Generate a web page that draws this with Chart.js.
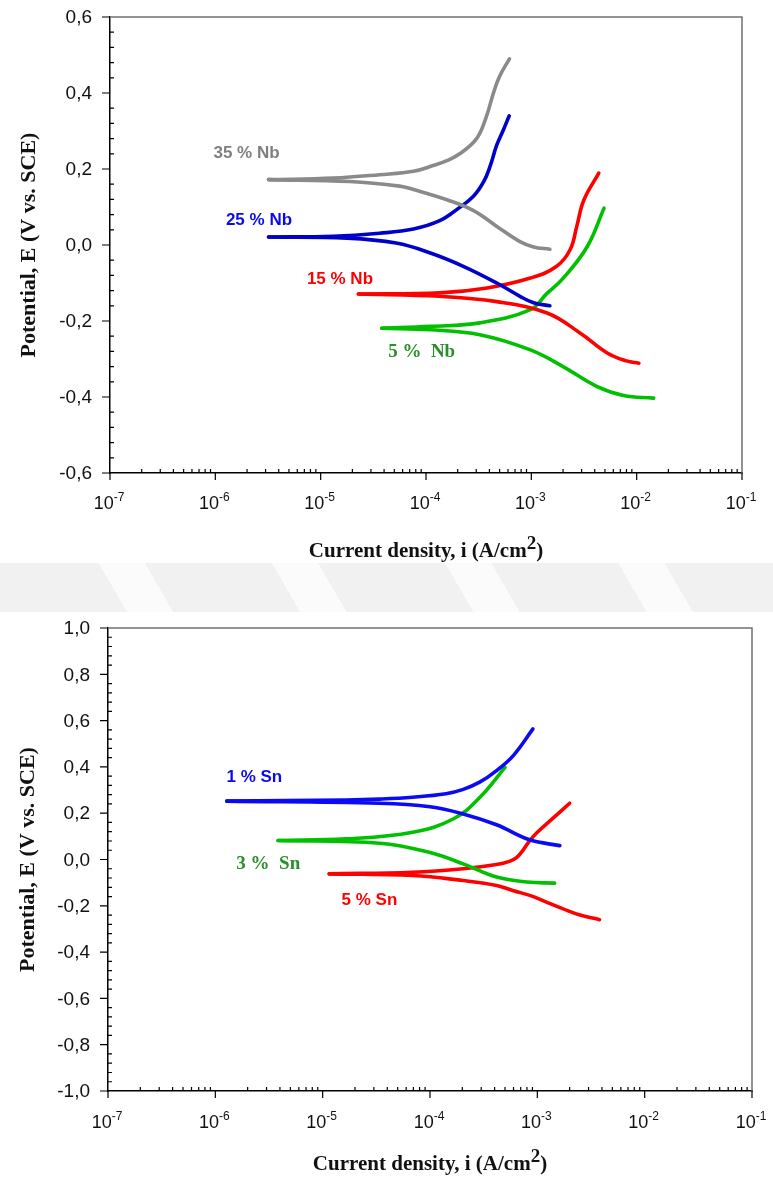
<!DOCTYPE html>
<html>
<head>
<meta charset="utf-8">
<script src="https://cdn.jsdelivr.net/npm/chart.js@4.4.0/dist/chart.umd.min.js"></script>
<style>
  body { margin:0; background:#fff; width:773px; height:1184px; position:relative; overflow:hidden; }
  canvas { position:absolute; left:0; }
  #band { position:absolute; left:0; top:563px; width:773px; height:49px;
    background:repeating-linear-gradient(60deg, #f1f1f1 0 110px, #fbfbfb 110px 150px); }
</style>
</head>
<body>
<div id="band"></div>
<canvas id="chart-nb" width="773" height="600" style="top:0"></canvas>
<canvas id="chart-sn" width="773" height="584" style="top:600px"></canvas>
<script>
// ---- data: [current density (A/cm2), potential (V vs SCE)] ----
// top panel, Nb alloys
const nb35Anodic   = [[3.2e-6,0.172],[1.32e-5,0.176],[3.63e-5,0.185],[7.6e-5,0.194],[1.17e-4,0.209],[1.58e-4,0.222],[2.09e-4,0.240],[3.02e-4,0.280],[3.7e-4,0.334],[4.37e-4,0.400],[5.0e-4,0.444],[6.2e-4,0.490]];
const nb35Cathodic = [[3.2e-6,0.172],[1.9e-5,0.167],[5.6e-5,0.155],[7.6e-5,0.146],[1.58e-4,0.119],[2.8e-4,0.091],[4.7e-4,0.049],[7.8e-4,0.009],[1.05e-3,-0.005],[1.5e-3,-0.011]];
const nb25Anodic   = [[3.2e-6,0.021],[1.32e-5,0.023],[3.63e-5,0.031],[7.6e-5,0.042],[1.35e-4,0.064],[2.0e-4,0.095],[2.82e-4,0.128],[3.55e-4,0.168],[4.07e-4,0.208],[4.68e-4,0.262],[5.37e-4,0.300],[6.17e-4,0.340]];
const nb25Cathodic = [[3.2e-6,0.021],[1.78e-5,0.018],[5.2e-5,0.005],[1.1e-4,-0.021],[2.26e-4,-0.056],[4.7e-4,-0.100],[7.8e-4,-0.135],[1.05e-3,-0.152],[1.5e-3,-0.160]];
const nb15Anodic   = [[2.28e-5,-0.129],[1.35e-4,-0.126],[3.8e-4,-0.113],[9.8e-4,-0.087],[1.74e-3,-0.056],[2.34e-3,-0.012],[2.7e-3,0.049],[3.16e-3,0.119],[4.37e-3,0.189]];
const nb15Cathodic = [[2.28e-5,-0.129],[1.35e-4,-0.135],[4.7e-4,-0.149],[1.41e-3,-0.179],[2.92e-3,-0.232],[5.25e-3,-0.284],[8.0e-3,-0.305],[1.05e-2,-0.311]];
const nb5Anodic    = [[3.8e-5,-0.219],[1.1e-4,-0.214],[3.24e-4,-0.205],[9.8e-4,-0.170],[1.4e-3,-0.128],[2.0e-3,-0.088],[3.4e-3,-0.004],[4.9e-3,0.097]];
const nb5Cathodic  = [[3.8e-5,-0.219],[1.1e-4,-0.223],[3.24e-4,-0.236],[9.8e-4,-0.276],[2.0e-3,-0.320],[4.17e-3,-0.372],[7.5e-3,-0.396],[1.45e-2,-0.403]];

// bottom panel, Sn alloys
const sn1Anodic    = [[1.28e-6,0.252],[1.66e-5,0.257],[3.4e-5,0.261],[6.9e-5,0.269],[1.41e-4,0.284],[2.04e-4,0.303],[2.9e-4,0.334],[4.17e-4,0.384],[6.0e-4,0.450],[9.1e-4,0.564]];
const sn1Cathodic  = [[1.28e-6,0.252],[3.4e-5,0.243],[1.0e-4,0.228],[2.04e-4,0.197],[4.17e-4,0.150],[8.5e-4,0.085],[1.62e-3,0.060]];
const sn3Anodic    = [[3.84e-6,0.082],[1.66e-5,0.089],[6.9e-5,0.118],[1.66e-4,0.176],[2.92e-4,0.269],[5.0e-4,0.398]];
const sn3Cathodic  = [[3.84e-6,0.082],[3.4e-5,0.070],[1.0e-4,0.030],[2.04e-4,-0.019],[4.17e-4,-0.076],[8.0e-4,-0.097],[1.45e-3,-0.102]];
const sn5Anodic    = [[1.15e-5,-0.062],[6.9e-5,-0.055],[2.04e-4,-0.040],[4.17e-4,-0.022],[5.5e-4,-0.008],[6.4e-4,0.008],[7.4e-4,0.042],[8.5e-4,0.082],[1.0e-3,0.118],[1.41e-3,0.180],[2.0e-3,0.243]];
const sn5Cathodic  = [[1.15e-5,-0.062],[6.9e-5,-0.069],[2.04e-4,-0.091],[4.17e-4,-0.112],[6.0e-4,-0.135],[8.5e-4,-0.155],[1.23e-3,-0.185],[1.74e-3,-0.213],[2.5e-3,-0.240],[3.8e-3,-0.260]];

// ticks
const xDecades = [1e-7, 1e-6, 1e-5, 1e-4, 1e-3, 1e-2, 1e-1];
const xTickExp = ['-7', '-6', '-5', '-4', '-3', '-2', '-1'];
const nbYTicks = [-0.6, -0.4, -0.2, 0.0, 0.2, 0.4, 0.6];
const snYTicks = [-1.0, -0.8, -0.6, -0.4, -0.2, 0.0, 0.2, 0.4, 0.6, 0.8, 1.0];

// curve labels, placed in data coordinates
const nbNotes = [
  { text:'35 % Nb', i:9.6e-7, e:0.240, color:'#7f7f7f', serif:false },
  { text:'25 % Nb', i:1.26e-6, e:0.066, color:'#0a0aee', serif:false },
  { text:'15 % Nb', i:7.4e-6, e:-0.089, color:'#ff0000', serif:false },
  { text:'5 %  Nb', i:4.37e-5, e:-0.282, color:'#2a8f2a', serif:true }
];
const snNotes = [
  { text:'1 % Sn', i:1.27e-6, e:0.355, color:'#0a0aee', serif:false },
  { text:'3 %  Sn', i:1.57e-6, e:-0.019, color:'#2a8f2a', serif:true },
  { text:'5 % Sn', i:1.5e-5, e:-0.177, color:'#ff0000', serif:false }
];

const SANS = '"Liberation Sans", Arial, sans-serif';
const SERIF = '"Liberation Serif", "Times New Roman", serif';

function fmt(v){ return v.toFixed(1).replace('.', ','); }
function pts(arr){ return arr.map(p => ({ x: p[0], y: p[1] })); }
function curve(arr, color){
  return { data: pts(arr), borderColor: color, borderWidth: 3.6, pointRadius: 0, showLine: true,
           tension: 0.4, borderCapStyle: 'round', borderJoinStyle: 'round', fill: false };
}

// axis frame, ticks, labels, titles and curve notes
const deco = {
  id: 'deco',
  afterDraw(chart, args, o){
    const ctx = chart.ctx, a = chart.chartArea, x = chart.scales.x, y = chart.scales.y;
    ctx.save();
    ctx.strokeStyle = '#707070'; ctx.lineWidth = 1.5;
    ctx.beginPath(); ctx.moveTo(a.left, a.top); ctx.lineTo(a.right, a.top); ctx.lineTo(a.right, a.bottom); ctx.stroke();

    ctx.strokeStyle = '#000'; ctx.lineWidth = 1.2;
    ctx.beginPath();
    const n = Math.round((o.yMax - o.yMin) / 0.04);
    for (let k = 0; k <= n; k++){
      if (k % 5 === 0) continue;
      const py = y.getPixelForValue(o.yMin + k * 0.04);
      ctx.moveTo(a.left, py); ctx.lineTo(a.left + 4, py);
    }
    o.yTicks.forEach(v => { const py = y.getPixelForValue(v); ctx.moveTo(a.left - 8, py); ctx.lineTo(a.left, py); });
    xDecades.forEach((d, k) => {
      const px = x.getPixelForValue(d);
      ctx.moveTo(px, a.bottom); ctx.lineTo(px, a.bottom + 7);
      if (k < xDecades.length - 1){
        for (let m = 2; m <= 9; m++){ const p = x.getPixelForValue(m * d); ctx.moveTo(p, a.bottom); ctx.lineTo(p, a.bottom - 4); }
      }
    });
    ctx.stroke();

    ctx.fillStyle = '#111';
    ctx.font = '19px ' + SANS; ctx.textAlign = 'right'; ctx.textBaseline = 'middle';
    o.yTicks.forEach(v => ctx.fillText(fmt(v), a.left - 18, y.getPixelForValue(v) + 1));

    ctx.textAlign = 'left'; ctx.textBaseline = 'alphabetic';
    xDecades.forEach((d, k) => {
      const px = x.getPixelForValue(d);
      ctx.font = '18px ' + SANS; const w1 = ctx.measureText('10').width;
      ctx.font = '12px ' + SANS; const w2 = ctx.measureText(xTickExp[k]).width;
      const x0 = px - (w1 + w2) / 2 - 1;
      ctx.font = '18px ' + SANS; ctx.fillText('10', x0, a.bottom + o.xLabelDy);
      ctx.font = '12px ' + SANS; ctx.fillText(xTickExp[k], x0 + w1, a.bottom + o.xLabelDy - 8);
    });

    // y title
    ctx.save();
    ctx.translate(o.yTitleX, (a.top + a.bottom) / 2);
    ctx.rotate(-Math.PI / 2);
    ctx.font = 'bold 22px ' + SERIF; ctx.textAlign = 'center'; ctx.textBaseline = 'middle';
    ctx.fillText('Potential, E (V vs. SCE)', 0, 0);
    ctx.restore();

    // x title with superscript
    const t1 = 'Current density, i (A/cm', t2 = '2', t3 = ')';
    ctx.font = 'bold 21px ' + SERIF; const w1 = ctx.measureText(t1).width, w3 = ctx.measureText(t3).width;
    ctx.font = 'bold 19px ' + SERIF; const w2 = ctx.measureText(t2).width;
    let tx = (a.left + a.right) / 2 - (w1 + w2 + w3) / 2;
    ctx.font = 'bold 21px ' + SERIF; ctx.fillText(t1, tx, o.xTitleY);
    ctx.font = 'bold 19px ' + SERIF; ctx.fillText(t2, tx + w1, o.xTitleY - 8);
    ctx.font = 'bold 21px ' + SERIF; ctx.fillText(t3, tx + w1 + w2, o.xTitleY);

    // curve notes
    ctx.textBaseline = 'middle';
    o.notes.forEach(nt => {
      ctx.font = nt.serif ? 'bold 19px ' + SERIF : 'bold 17px ' + SANS;
      ctx.fillStyle = nt.color;
      ctx.fillText(nt.text, x.getPixelForValue(nt.i), y.getPixelForValue(nt.e));
    });
    ctx.restore();
  }
};

function makeChart(id, datasets, cfg){
  return new Chart(document.getElementById(id), {
    type: 'scatter',
    data: { datasets },
    plugins: [deco],
    options: {
      responsive: false, animation: false,
      layout: { padding: { top: cfg.top, right: cfg.right, left: 0, bottom: 0 } },
      plugins: {
        legend: { display: false }, tooltip: { enabled: false },
        deco: { yMin: cfg.yMin, yMax: cfg.yMax, yTicks: cfg.yTicks, notes: cfg.notes,
                xLabelDy: cfg.xLabelDy, xTitleY: cfg.xTitleY, yTitleX: cfg.yTitleX }
      },
      scales: {
        x: { type: 'logarithmic', min: 1e-7, max: 1e-1,
             grid: { display: false }, ticks: { display: false },
             border: { display: true, color: '#000', width: 1.5 },
             afterFit(s){ s.height = cfg.xAxisH; } },
        y: { type: 'linear', min: cfg.yMin, max: cfg.yMax,
             grid: { display: false }, ticks: { display: false },
             border: { display: true, color: '#000', width: 1.5 },
             afterFit(s){ s.width = cfg.yAxisW; } }
      }
    }
  });
}

makeChart('chart-nb', [
  curve(nb35Anodic, '#8a8a8a'), curve(nb35Cathodic, '#8a8a8a'),
  curve(nb25Anodic, '#0000c8'), curve(nb25Cathodic, '#0000c8'),
  curve(nb15Anodic, '#ff0000'), curve(nb15Cathodic, '#ff0000'),
  curve(nb5Anodic, '#00c000'), curve(nb5Cathodic, '#00c000')
], { top: 17, right: 31, yAxisW: 110, xAxisH: 127, yMin: -0.6, yMax: 0.6, yTicks: nbYTicks,
     notes: nbNotes, xLabelDy: 36, xTitleY: 557, yTitleX: 29 });

makeChart('chart-sn', [
  curve(sn1Anodic, '#0a0af5'), curve(sn1Cathodic, '#0a0af5'),
  curve(sn3Anodic, '#00c000'), curve(sn3Cathodic, '#00c000'),
  curve(sn5Anodic, '#ff0000'), curve(sn5Cathodic, '#ff0000')
], { top: 28, right: 21, yAxisW: 108, xAxisH: 93, yMin: -1.0, yMax: 1.0, yTicks: snYTicks,
     notes: snNotes, xLabelDy: 37, xTitleY: 570, yTitleX: 28 });
</script>
</body>
</html>
